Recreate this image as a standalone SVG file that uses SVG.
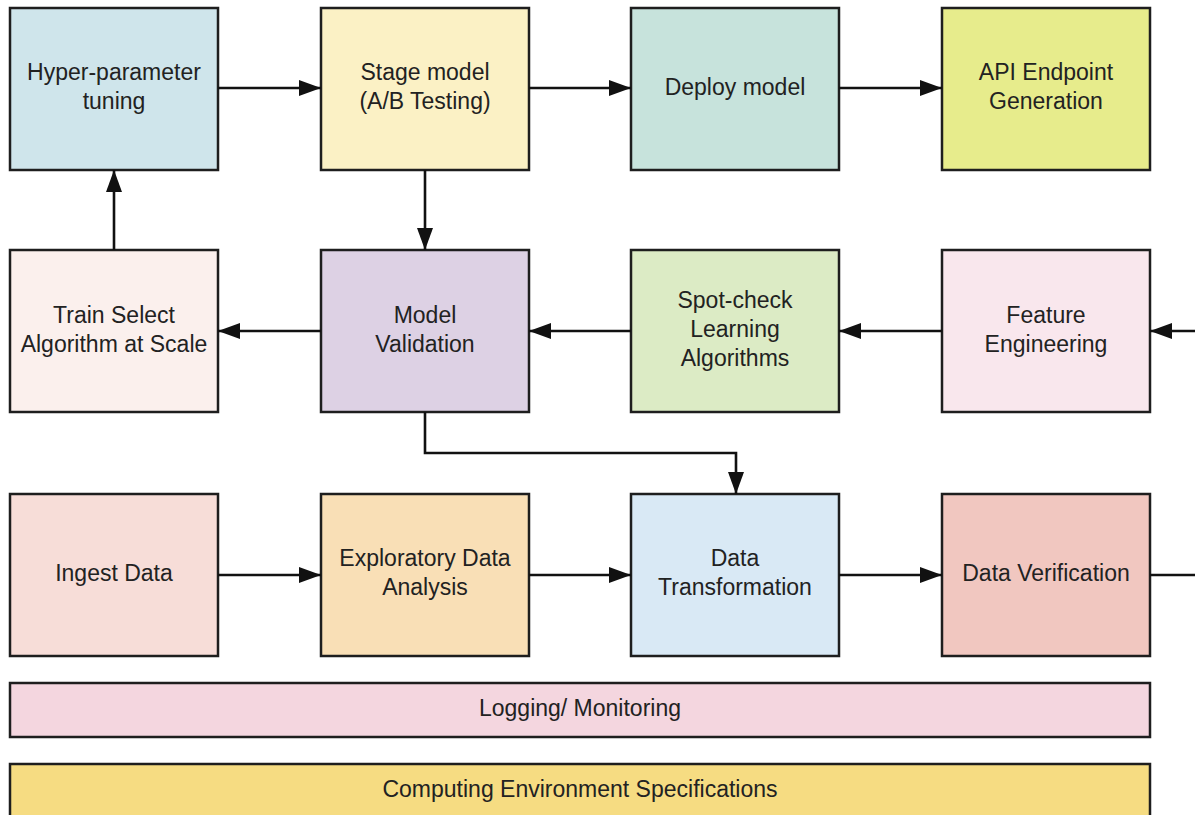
<svg xmlns="http://www.w3.org/2000/svg" width="1195" height="815" viewBox="0 0 1195 815">
  <style>
    .box { stroke: #1e1e1e; stroke-width: 2.5; }
    .lbl { font-family: "Liberation Sans", Arial, sans-serif; font-size: 23px; fill: #222; text-anchor: middle; }
    .wire { fill: none; stroke: #111; stroke-width: 2.6; }
  </style>
  <defs>
    <marker id="arrow" viewBox="0 0 22 16" refX="22" refY="8" markerWidth="22" markerHeight="16" markerUnits="userSpaceOnUse" orient="auto">
      <path d="M0,0 L22,8 L0,16 z" fill="#111"/>
    </marker>
  </defs>
  <rect width="1195" height="815" fill="#fff"/>

  <!-- top row -->
  <g id="hyperparameter-tuning">
    <rect class="box" x="10" y="8" width="208" height="162" fill="#cfe5eb"/>
    <text class="lbl" x="114" y="80">Hyper-parameter</text>
    <text class="lbl" x="114" y="109">tuning</text>
  </g>
  <g id="stage-model">
    <rect class="box" x="321" y="8" width="208" height="162" fill="#fbf1c5"/>
    <text class="lbl" x="425" y="80">Stage model</text>
    <text class="lbl" x="425" y="109">(A/B Testing)</text>
  </g>
  <g id="deploy-model">
    <rect class="box" x="631" y="8" width="208" height="162" fill="#c7e3dc"/>
    <text class="lbl" x="735" y="95">Deploy model</text>
  </g>
  <g id="api-endpoint">
    <rect class="box" x="942" y="8" width="208" height="162" fill="#e7ec8c"/>
    <text class="lbl" x="1046" y="80">API Endpoint</text>
    <text class="lbl" x="1046" y="109">Generation</text>
  </g>

  <!-- middle row -->
  <g id="train-select">
    <rect class="box" x="10" y="250" width="208" height="162" fill="#fbf0ed"/>
    <text class="lbl" x="114" y="323">Train Select</text>
    <text class="lbl" x="114" y="352">Algorithm at Scale</text>
  </g>
  <g id="model-validation">
    <rect class="box" x="321" y="250" width="208" height="162" fill="#ddd1e4"/>
    <text class="lbl" x="425" y="323">Model</text>
    <text class="lbl" x="425" y="352">Validation</text>
  </g>
  <g id="spot-check">
    <rect class="box" x="631" y="250" width="208" height="162" fill="#dcebc5"/>
    <text class="lbl" x="735" y="308">Spot-check</text>
    <text class="lbl" x="735" y="337">Learning</text>
    <text class="lbl" x="735" y="366">Algorithms</text>
  </g>
  <g id="feature-engineering">
    <rect class="box" x="942" y="250" width="208" height="162" fill="#f9e7ed"/>
    <text class="lbl" x="1046" y="323">Feature</text>
    <text class="lbl" x="1046" y="352">Engineering</text>
  </g>

  <!-- bottom row -->
  <g id="ingest-data">
    <rect class="box" x="10" y="494" width="208" height="162" fill="#f7ddd8"/>
    <text class="lbl" x="114" y="581">Ingest Data</text>
  </g>
  <g id="exploratory-analysis">
    <rect class="box" x="321" y="494" width="208" height="162" fill="#f9dfb6"/>
    <text class="lbl" x="425" y="566">Exploratory Data</text>
    <text class="lbl" x="425" y="595">Analysis</text>
  </g>
  <g id="data-transformation">
    <rect class="box" x="631" y="494" width="208" height="162" fill="#d9e9f5"/>
    <text class="lbl" x="735" y="566">Data</text>
    <text class="lbl" x="735" y="595">Transformation</text>
  </g>
  <g id="data-verification">
    <rect class="box" x="942" y="494" width="208" height="162" fill="#f1c7c0"/>
    <text class="lbl" x="1046" y="581">Data Verification</text>
  </g>

  <!-- cross-cutting bars -->
  <g id="logging-monitoring">
    <rect class="box" x="10" y="683" width="1140" height="54" fill="#f4d6df"/>
    <text class="lbl" x="580" y="716">Logging/ Monitoring</text>
  </g>
  <g id="computing-environment">
    <rect class="box" x="10" y="764" width="1140" height="60" fill="#f6dc82"/>
    <text class="lbl" x="580" y="797">Computing Environment Specifications</text>
  </g>

  <!-- connectors -->
  <g id="connectors">
    <line class="wire" x1="218" y1="88" x2="321" y2="88" marker-end="url(#arrow)"/>
    <line class="wire" x1="529" y1="88" x2="631" y2="88" marker-end="url(#arrow)"/>
    <line class="wire" x1="839" y1="88" x2="942" y2="88" marker-end="url(#arrow)"/>
    <line class="wire" x1="114" y1="250" x2="114" y2="170" marker-end="url(#arrow)"/>
    <line class="wire" x1="425" y1="170" x2="425" y2="250" marker-end="url(#arrow)"/>
    <line class="wire" x1="321" y1="331" x2="218" y2="331" marker-end="url(#arrow)"/>
    <line class="wire" x1="631" y1="331" x2="529" y2="331" marker-end="url(#arrow)"/>
    <line class="wire" x1="942" y1="331" x2="839" y2="331" marker-end="url(#arrow)"/>
    <line class="wire" x1="1197" y1="331" x2="1150" y2="331" marker-end="url(#arrow)"/>
    <polyline class="wire" points="425,412 425,453 736,453 736,494" marker-end="url(#arrow)"/>
    <line class="wire" x1="218" y1="575" x2="321" y2="575" marker-end="url(#arrow)"/>
    <line class="wire" x1="529" y1="575" x2="631" y2="575" marker-end="url(#arrow)"/>
    <line class="wire" x1="839" y1="575" x2="942" y2="575" marker-end="url(#arrow)"/>
    <line class="wire" x1="1150" y1="575" x2="1197" y2="575"/>
  </g>
</svg>
